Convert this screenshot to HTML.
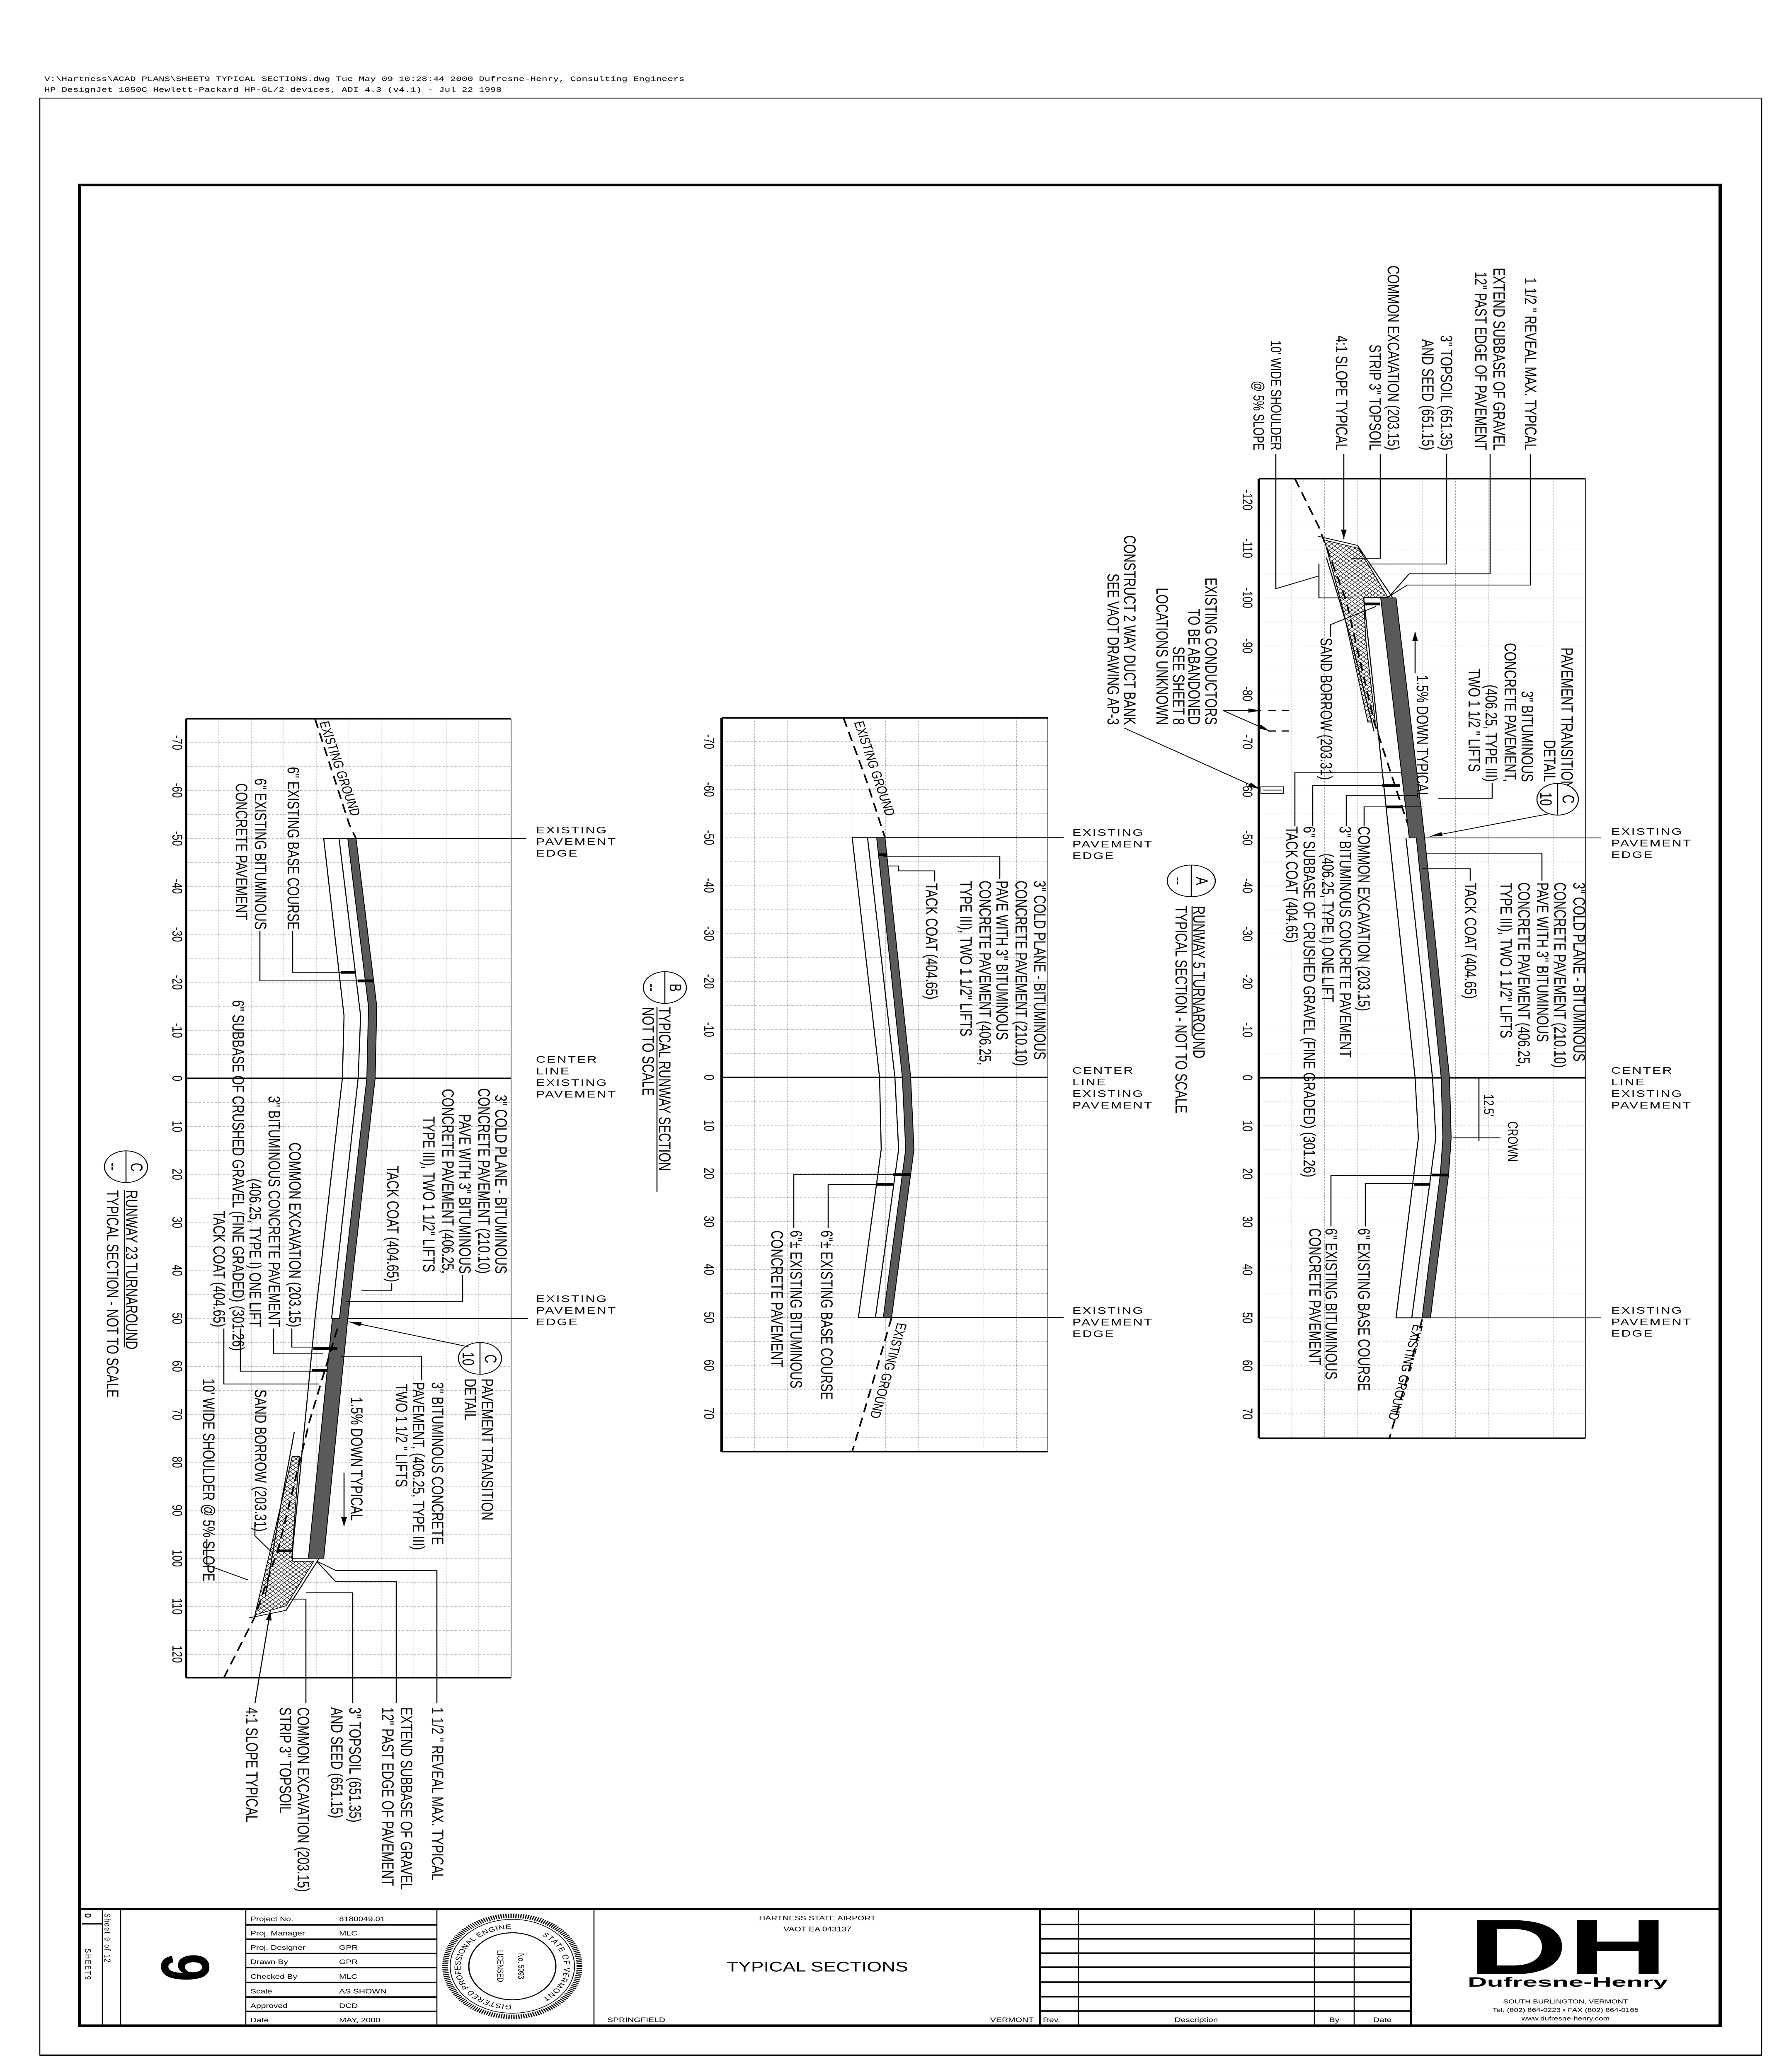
<!DOCTYPE html>
<html><head><meta charset="utf-8"><style>
html,body{margin:0;padding:0;background:#fff;overflow:hidden}
svg{display:block;position:fixed;left:0;top:0;width:100vw;height:100vh}
.t{font-family:"Liberation Sans",sans-serif;font-size:40px;fill:#000}
.s{font-family:"Liberation Sans",sans-serif;font-size:34px;fill:#000}
.e{font-family:"Liberation Sans",sans-serif;font-size:32px;letter-spacing:3px;fill:#000}
.m{font-family:"Liberation Mono",monospace;font-size:23px;fill:#000}
.tb{font-family:"Liberation Sans",sans-serif;font-size:21px;fill:#000}
.l{stroke:#000;stroke-width:2.5;fill:none}
.d{stroke:#000;stroke-width:4;fill:none;stroke-dasharray:30 18}
.pv{fill:#5a5a5a;stroke:#000;stroke-width:2}
.bar{stroke:#000;stroke-width:9}
</style></head><body>
<svg viewBox="0 0 4304 6800" preserveAspectRatio="none" xmlns="http://www.w3.org/2000/svg">
<defs>
<pattern id="gA" patternUnits="userSpaceOnUse" x="3037" y="3537" width="79" height="78.75"><path d="M0 0H79M0 0V78.75" stroke="#8a8a8a" stroke-width="1.6" stroke-dasharray="6 4" fill="none"/></pattern>
<pattern id="gB" patternUnits="userSpaceOnUse" x="1741" y="3536" width="79" height="78.75"><path d="M0 0H79M0 0V78.75" stroke="#8a8a8a" stroke-width="1.6" stroke-dasharray="6 4" fill="none"/></pattern>
<pattern id="gC" patternUnits="userSpaceOnUse" x="449" y="3539" width="78.4" height="78.75"><path d="M0 0H78.4M0 0V78.75" stroke="#8a8a8a" stroke-width="1.6" stroke-dasharray="6 4" fill="none"/></pattern>
<pattern id="hx" patternUnits="userSpaceOnUse" width="14" height="14"><path d="M0 0L14 14M14 0L0 14" stroke="#000" stroke-width="1.3"/></pattern>
<marker id="ar2" markerWidth="30" markerHeight="14" refX="30" refY="7" orient="auto" markerUnits="userSpaceOnUse"><path d="M0 0L30 7L0 14z" fill="#000"/></marker>
<path id="sealR" d="M1236 6330 A125 125 0 0 1 1236 6580"/>
<path id="sealL" d="M1236 6580 A125 125 0 0 1 1236 6330"/>
</defs>

<text class="m" x="107" y="266">V:\Hartness\ACAD PLANS\SHEET9 TYPICAL SECTIONS.dwg  Tue May 09 10:28:44 2000  Dufresne-Henry, Consulting Engineers</text>
<text class="m" x="107" y="301">HP DesignJet 1050C  Hewlett-Packard HP-GL/2 devices, ADI 4.3 (v4.1) - Jul 22 1998</text>

<rect x="96" y="322" width="4154" height="6423" fill="none" stroke="#000" stroke-width="2.5"/>
<line x1="96" y1="6745" x2="4250" y2="6745" stroke="#000" stroke-width="5"/>
<rect x="192" y="607" width="3958" height="6041" fill="none" stroke="#000" stroke-width="8"/>

<!-- SECTION A -->
<rect x="3037" y="1571" width="788" height="3149" fill="url(#gA)"/>
<line x1="3037" y1="1571" x2="3825" y2="1571" stroke="#000" stroke-width="5"/>
<line x1="3037" y1="4720" x2="3825" y2="4720" stroke="#000" stroke-width="5"/>
<line x1="3037" y1="1571" x2="3037" y2="4720" stroke="#000" stroke-width="6"/>
<line x1="3825" y1="1571" x2="3825" y2="4720" stroke="#000" stroke-width="1.5"/>
<line x1="3037" y1="3537" x2="3825" y2="3537" stroke="#000" stroke-width="5"/>
<line class="l" x1="3435" y1="2750" x2="3862" y2="2750"/>
<line class="l" x1="3368" y1="4325" x2="3862" y2="4325"/>
<g class="s" text-anchor="middle">
<text transform="translate(2998 1641) rotate(90)">-120</text>
<text transform="translate(2998 1799) rotate(90)">-110</text>
<text transform="translate(2998 1962) rotate(90)">-100</text>
<text transform="translate(2998 2120) rotate(90)">-90</text>
<text transform="translate(2998 2277) rotate(90)">-80</text>
<text transform="translate(2998 2435) rotate(90)">-70</text>
<text transform="translate(2998 2592) rotate(90)">-60</text>
<text transform="translate(2998 2750) rotate(90)">-50</text>
<text transform="translate(2998 2907) rotate(90)">-40</text>
<text transform="translate(2998 3065) rotate(90)">-30</text>
<text transform="translate(2998 3222) rotate(90)">-20</text>
<text transform="translate(2998 3380) rotate(90)">-10</text>
<text transform="translate(2998 3537) rotate(90)">0</text>
<text transform="translate(2998 3695) rotate(90)">10</text>
<text transform="translate(2998 3852) rotate(90)">20</text>
<text transform="translate(2998 4010) rotate(90)">30</text>
<text transform="translate(2998 4167) rotate(90)">40</text>
<text transform="translate(2998 4325) rotate(90)">50</text>
<text transform="translate(2998 4482) rotate(90)">60</text>
<text transform="translate(2998 4640) rotate(90)">70</text>
</g>
<polygon points="3195,1772 3278,1800 3348,1960 3290,1960 3295,2100 3318,2370 3300,2370 3240,2000" fill="url(#hx)" stroke="#000" stroke-width="2"/>
<polyline class="l" points="3180,1760 3275,1790 3360,1962"/>
<polyline class="l" points="3200,1830 3260,2100 3315,2400"/>
<polyline class="l" points="3290,1962 3352,2750"/>
<line class="l" x1="3290" y1="1962" x2="3368" y2="1962"/>
<polygon class="pv" points="3368,1962 3437,2750 3497,3537 3501,3734 3495,3852 3451,4325 3431,4325 3475,3852 3481,3734 3477,3537 3417,2750 3400,2750 3331,1962"/>
<polyline class="l" points="3392,2750 3456,3537 3464,3734 3406,4325"/>
<polyline class="l" points="3352,2750 3414,3537 3422,3734 3368,4325 3451,4325"/>
<polyline class="d" points="3124,1571 3182,1730 3248,1972 3315,2368 3364,2572 3395,2700"/>
<polyline class="d" points="3431,4330 3395,4520 3352,4720"/>
<line class="bar" x1="3335" y1="2578" x2="3377" y2="2578"/><line class="bar" x1="3343" y1="2648" x2="3385" y2="2648"/>
<line class="bar" x1="3454" y1="3856" x2="3495" y2="3856"/><line class="bar" x1="3412" y1="3887" x2="3451" y2="3887"/>
<line class="bar" x1="3290" y1="1982" x2="3330" y2="1982"/>
<line x1="3060" y1="2332" x2="3110" y2="2332" stroke="#000" stroke-width="4" stroke-dasharray="18 14"/>
<line x1="3060" y1="2399" x2="3110" y2="2399" stroke="#000" stroke-width="4" stroke-dasharray="18 14"/>
<rect x="3042" y="2582" width="55" height="22" fill="none" stroke="#000" stroke-width="2"/>
<line class="l" x1="3048" y1="2593" x2="3092" y2="2593"/>
<g class="t" text-anchor="end">
<text transform="translate(2908 2379) rotate(90)">EXISTING CONDUCTORS</text>
<text transform="translate(2867 2379) rotate(90)">TO BE ABANDONED</text>
<text transform="translate(2830 2379) rotate(90)">SEE SHEET 8</text>
<text transform="translate(2790 2379) rotate(90)">LOCATIONS UNKNOWN</text>
<text transform="translate(2712 2379) rotate(90)">CONSTRUCT 2 WAY DUCT BANK</text>
<text transform="translate(2672 2379) rotate(90)">SEE VAOT DRAWING AP-3</text>
</g>
<line class="l" x1="2951" y1="2332" x2="3042" y2="2332" marker-end="url(#ar2)"/>
<line class="l" x1="2951" y1="2332" x2="3063" y2="2399" marker-end="url(#ar2)"/>
<line class="l" x1="2712" y1="2389" x2="3040" y2="2590" marker-end="url(#ar2)"/>
<g class="t" text-anchor="end">
<text transform="translate(3679 1478) rotate(90)">1 1/2 " REVEAL MAX. TYPICAL</text>
<text transform="translate(3603 1478) rotate(90)">EXTEND SUBBASE OF GRAVEL</text>
<text transform="translate(3559 1478) rotate(90)">12" PAST EDGE OF PAVEMENT</text>
<text transform="translate(3476 1478) rotate(90)">3" TOPSOIL (651.35)</text>
<text transform="translate(3431 1478) rotate(90)">AND SEED (651.15)</text>
<text transform="translate(3348 1478) rotate(90)">COMMON EXCAVATION (203.15)</text>
<text transform="translate(3304 1478) rotate(90)">STRIP 3" TOPSOIL</text>
<text transform="translate(3223 1478) rotate(90)">4:1 SLOPE TYPICAL</text>
<text transform="translate(3066 1478) rotate(90)" font-size="36">10' WIDE SHOULDER</text>
<text transform="translate(3024 1478) rotate(90)" font-size="36">@ 5% SLOPE</text>
</g>
<polyline class="l" points="3692,1490 3692,1920 3395,1920 3348,1960"/>
<polyline class="l" points="3595,1490 3595,1883 3400,1883 3350,1960"/>
<polyline class="l" points="3490,1490 3490,1851 3306,1851"/>
<polyline class="l" points="3330,1490 3330,1832 3260,1832"/>
<line class="l" x1="3242" y1="1490" x2="3242" y2="1768" marker-end="url(#ar2)"/>
<polyline class="l" points="3078,1490 3078,1932 3182,1890"/>
<polyline class="l" points="3182,1850 3182,1962 3260,1962"/>
<g class="t">
<text transform="translate(3767 2125) rotate(90)">PAVEMENT TRANSITION</text>
<text transform="translate(3725 2566) rotate(90)" text-anchor="end">DETAIL</text>
<text transform="translate(3671 2566) rotate(90)" text-anchor="end">3" BITUMINOUS</text>
<text transform="translate(3630 2566) rotate(90)" text-anchor="end">CONCRETE PAVEMENT,</text>
<text transform="translate(3584 2566) rotate(90)" text-anchor="end">(406.25, TYPE III)</text>
<text transform="translate(3543 2533) rotate(90)" text-anchor="end">TWO 1 1/2 " LIFTS</text>
<text transform="translate(3418 2215) rotate(90)">1.5% DOWN TYPICAL</text>
<text transform="translate(3186 2093) rotate(90)">SAND BORROW (203.31)</text>
</g>
<polyline class="l" points="3600,2570 3600,2620 3470,2620"/>
<line class="l" x1="3414" y1="2210" x2="3414" y2="2074" marker-end="url(#ar2)"/>
<polyline class="l" points="3210,2090 3210,2050 3320,1990"/>
<ellipse cx="3758" cy="2623" rx="50" ry="52" fill="#fff" stroke="#000" stroke-width="2.5"/>
<line class="l" x1="3758" y1="2571" x2="3758" y2="2675"/>
<text class="t" transform="translate(3770 2608) rotate(90)" font-size="34">C</text>
<text class="t" transform="translate(3716 2600) rotate(90)" font-size="34">10</text>
<line class="l" x1="3740" y1="2670" x2="3450" y2="2745" marker-end="url(#ar2)"/>
<g class="t">
<text transform="translate(3277 2712) rotate(90)">COMMON EXCAVATION (203.15)</text>
<text transform="translate(3232 2712) rotate(90)">3" BITUMINOUS CONCRETE PAVEMENT</text>
<text transform="translate(3190 2801) rotate(90)">(406.25, TYPE I) ONE LIFT</text>
<text transform="translate(3145 2712) rotate(90)">6" SUBBASE OF CRUSHED GRAVEL (FINE GRADED) (301.26)</text>
<text transform="translate(3103 2712) rotate(90)">TACK COAT (404.65)</text>
</g>
<polyline class="l" points="3291,2712 3291,2648 3430,2648"/>
<polyline class="l" points="3248,2712 3248,2610 3420,2610"/>
<polyline class="l" points="3167,2712 3167,2578 3340,2578"/>
<polyline class="l" points="3124,2712 3124,2536 3380,2536"/>
<g class="t">
<text transform="translate(3796 2896) rotate(90)">3" COLD PLANE - BITUMINOUS</text>
<text transform="translate(3750 2896) rotate(90)">CONCRETE PAVEMENT (210.10)</text>
<text transform="translate(3708 2896) rotate(90)">PAVE WITH 3" BITUMINOUS</text>
<text transform="translate(3663 2896) rotate(90)">CONCRETE PAVEMENT (406.25,</text>
<text transform="translate(3620 2896) rotate(90)">TYPE III), TWO 1 1/2" LIFTS</text>
<text transform="translate(3534 2896) rotate(90)">TACK COAT (404.65)</text>
<text transform="translate(3580 3591) rotate(90)" font-size="34">12.5'</text>
<text transform="translate(3638 3680) rotate(90)" font-size="34">CROWN</text>
<text transform="translate(3277 4031) rotate(90)">6" EXISTING BASE COURSE</text>
<text transform="translate(3198 4031) rotate(90)">6" EXISTING BITUMINOUS</text>
<text transform="translate(3159 4031) rotate(90)">CONCRETE PAVEMENT</text>
<text transform="translate(3410 4345) rotate(101)" font-size="34">EXISTING GROUND</text>
</g>
<polyline class="l" points="3720,2890 3720,2800 3440,2800"/>
<polyline class="l" points="3547,2890 3547,2851 3430,2851"/>
<line class="l" x1="3568" y1="3537" x2="3568" y2="3745"/>
<line class="l" x1="3505" y1="3734" x2="3620" y2="3734"/>
<polyline class="l" points="3294,4025 3294,3884 3447,3884"/>
<polyline class="l" points="3211,4025 3211,3858 3456,3858"/>
<g class="e">
<text x="3887" y="2740">EXISTING</text><text x="3887" y="2778">PAVEMENT</text><text x="3887" y="2816">EDGE</text>
<text x="3887" y="3524">CENTER</text><text x="3887" y="3562">LINE</text><text x="3887" y="3600">EXISTING</text><text x="3887" y="3638">PAVEMENT</text>
<text x="3887" y="4311">EXISTING</text><text x="3887" y="4349">PAVEMENT</text><text x="3887" y="4387">EDGE</text>
</g>
<ellipse cx="2874" cy="2891" rx="58" ry="52" fill="#fff" stroke="#000" stroke-width="2.5"/>
<line class="l" x1="2874" y1="2839" x2="2874" y2="2943"/>
<text class="t" transform="translate(2886 2878) rotate(90)">A</text>
<text class="t" transform="translate(2830 2878) rotate(90)">--</text>
<text class="t" transform="translate(2879 2973) rotate(90)">RUNWAY 5 TURNAROUND</text>
<line class="l" x1="2876" y1="2973" x2="2876" y2="3400"/>
<text class="t" transform="translate(2836 2973) rotate(90)">TYPICAL SECTION - NOT TO SCALE</text>

<!-- SECTION B -->
<rect x="1741" y="2356" width="787" height="2408" fill="url(#gB)"/>
<line x1="1741" y1="2356" x2="2528" y2="2356" stroke="#000" stroke-width="5"/>
<line x1="1741" y1="4764" x2="2528" y2="4764" stroke="#000" stroke-width="5"/>
<line x1="1741" y1="2356" x2="1741" y2="4764" stroke="#000" stroke-width="6"/>
<line x1="2528" y1="2356" x2="2528" y2="4764" stroke="#000" stroke-width="1.5"/>
<line x1="1741" y1="3536" x2="2528" y2="3536" stroke="#000" stroke-width="5"/>
<line class="l" x1="2056" y1="2749" x2="2566" y2="2749"/>
<line class="l" x1="2071" y1="4324" x2="2566" y2="4324"/>
<g class="s" text-anchor="middle">
<text transform="translate(1699 2434) rotate(90)">-70</text>
<text transform="translate(1699 2591) rotate(90)">-60</text>
<text transform="translate(1699 2749) rotate(90)">-50</text>
<text transform="translate(1699 2906) rotate(90)">-40</text>
<text transform="translate(1699 3064) rotate(90)">-30</text>
<text transform="translate(1699 3221) rotate(90)">-20</text>
<text transform="translate(1699 3379) rotate(90)">-10</text>
<text transform="translate(1699 3536) rotate(90)">0</text>
<text transform="translate(1699 3694) rotate(90)">10</text>
<text transform="translate(1699 3851) rotate(90)">20</text>
<text transform="translate(1699 4009) rotate(90)">30</text>
<text transform="translate(1699 4166) rotate(90)">40</text>
<text transform="translate(1699 4324) rotate(90)">50</text>
<text transform="translate(1699 4481) rotate(90)">60</text>
<text transform="translate(1699 4639) rotate(90)">70</text>
</g>
<polygon class="pv" points="2135,2749 2197,3536 2205,3772 2151,4324 2131,4324 2185,3772 2177,3536 2115,2749"/>
<polyline class="l" points="2093,2749 2159,3536 2168,3772 2112,4324"/>
<polyline class="l" points="2056,2749 2122,3536 2126,3772 2071,4324"/>
<polyline class="d" points="2035,2356 2090,2560 2135,2749"/>
<polyline class="d" points="2151,4324 2105,4540 2056,4764"/>
<line class="bar" x1="2155" y1="3855" x2="2197" y2="3855"/><line class="bar" x1="2114" y1="3887" x2="2155" y2="3887"/>
<line class="bar" x1="2120" y1="2805" x2="2141" y2="2805"/>
<g class="t">
<text transform="translate(2495 2890) rotate(90)">3" COLD PLANE - BITUMINOUS</text>
<text transform="translate(2450 2890) rotate(90)">CONCRETE PAVEMENT (210.10)</text>
<text transform="translate(2404 2890) rotate(90)">PAVE WITH 3" BITUMINOUS</text>
<text transform="translate(2363 2890) rotate(90)">CONCRETE PAVEMENT (406.25,</text>
<text transform="translate(2317 2890) rotate(90)">TYPE III), TWO 1 1/2" LIFTS</text>
<text transform="translate(2234 2898) rotate(90)">TACK COAT (404.65)</text>
<text transform="translate(1981 4038) rotate(90)">6"± EXISTING BASE COURSE</text>
<text transform="translate(1907 4038) rotate(90)">6"± EXISTING BITUMINOUS</text>
<text transform="translate(1861 4038) rotate(90)">CONCRETE PAVEMENT</text>
<text transform="translate(2060 2370) rotate(76)" font-size="34">EXISTING GROUND</text>
<text transform="translate(2165 4340) rotate(102)" font-size="34">EXISTING GROUND</text>
</g>
<polyline class="l" points="2412,2885 2412,2810 2130,2810"/>
<polyline class="l" points="2255,2893 2255,2858 2168,2858 2168,2842 2140,2842"/>
<polyline class="l" points="1998,4030 1998,3887 2155,3887"/>
<polyline class="l" points="1915,4030 1915,3855 2190,3855"/>
<g class="e">
<text x="2587" y="2743">EXISTING</text><text x="2587" y="2781">PAVEMENT</text><text x="2587" y="2819">EDGE</text>
<text x="2587" y="3524">CENTER</text><text x="2587" y="3562">LINE</text><text x="2587" y="3600">EXISTING</text><text x="2587" y="3638">PAVEMENT</text>
<text x="2587" y="4312">EXISTING</text><text x="2587" y="4350">PAVEMENT</text><text x="2587" y="4388">EDGE</text>
</g>
<ellipse cx="1604" cy="3241" rx="52" ry="52" fill="#fff" stroke="#000" stroke-width="2.5"/>
<line class="l" x1="1604" y1="3189" x2="1604" y2="3293"/>
<text class="t" transform="translate(1616 3228) rotate(90)">B</text>
<text class="t" transform="translate(1560 3228) rotate(90)">--</text>
<text class="t" transform="translate(1590 3305) rotate(90)">TYPICAL RUNWAY SECTION</text>
<line class="l" x1="1585" y1="3305" x2="1585" y2="3911"/>
<text class="t" transform="translate(1550 3305) rotate(90)">NOT TO SCALE</text>

<!-- SECTION C -->
<rect x="449" y="2359" width="784" height="3147" fill="url(#gC)"/>
<line x1="449" y1="2359" x2="1233" y2="2359" stroke="#000" stroke-width="5"/>
<line x1="449" y1="5506" x2="1233" y2="5506" stroke="#000" stroke-width="5"/>
<line x1="449" y1="2359" x2="449" y2="5506" stroke="#000" stroke-width="6"/>
<line x1="1233" y1="2359" x2="1233" y2="5506" stroke="#000" stroke-width="1.5"/>
<line x1="449" y1="3539" x2="1233" y2="3539" stroke="#000" stroke-width="5"/>
<line class="l" x1="781" y1="2752" x2="1270" y2="2752"/>
<line class="l" x1="839" y1="4327" x2="1274" y2="4327"/>
<g class="s" text-anchor="middle">
<text transform="translate(416 2437) rotate(90)">-70</text>
<text transform="translate(416 2594) rotate(90)">-60</text>
<text transform="translate(416 2752) rotate(90)">-50</text>
<text transform="translate(416 2909) rotate(90)">-40</text>
<text transform="translate(416 3067) rotate(90)">-30</text>
<text transform="translate(416 3224) rotate(90)">-20</text>
<text transform="translate(416 3382) rotate(90)">-10</text>
<text transform="translate(416 3539) rotate(90)">0</text>
<text transform="translate(416 3697) rotate(90)">10</text>
<text transform="translate(416 3854) rotate(90)">20</text>
<text transform="translate(416 4012) rotate(90)">30</text>
<text transform="translate(416 4169) rotate(90)">40</text>
<text transform="translate(416 4327) rotate(90)">50</text>
<text transform="translate(416 4484) rotate(90)">60</text>
<text transform="translate(416 4642) rotate(90)">70</text>
<text transform="translate(416 4799) rotate(90)">80</text>
<text transform="translate(416 4957) rotate(90)">90</text>
<text transform="translate(416 5114) rotate(90)">100</text>
<text transform="translate(416 5272) rotate(90)">110</text>
<text transform="translate(416 5429) rotate(90)">120</text>
</g>
<polygon points="615,5300 690,5270 757,5124 705,5124 705,5088 722,4780 705,4780 650,5100" fill="url(#hx)" stroke="#000" stroke-width="2"/>
<polyline class="l" points="600,5310 690,5285 770,5114"/>
<polyline class="l" points="640,5240 680,4920 710,4700"/>
<polyline class="l" points="760,4327 704,5114 781,5114"/>
<polygon class="pv" points="859,2752 909,3303 905,3539 839,4327 781,5114 744,5114 802,4327 819,4327 885,3539 889,3303 839,2752"/>
<polyline class="l" points="818,2752 870,3334 864,3539 800,4327"/>
<polyline class="l" points="859,2752 781,2752 830,3334 826,3539 760,4327"/>
<polyline class="d" points="760,2359 843,2707 859,2752"/>
<polyline class="d" points="814,4360 747,4663 673,5075 615,5306 540,5506"/>
<line class="bar" x1="822" y1="3191" x2="859" y2="3191"/><line class="bar" x1="864" y1="3219" x2="901" y2="3219"/>
<line class="bar" x1="756" y1="4425" x2="814" y2="4425"/><line class="bar" x1="752" y1="4497" x2="789" y2="4497"/>
<line class="bar" x1="669" y1="5090" x2="704" y2="5090"/>
<g class="t">
<text transform="translate(694 3051) rotate(90)" text-anchor="end">6" EXISTING BASE COURSE</text>
<text transform="translate(615 3051) rotate(90)" text-anchor="end">6" EXISTING BITUMINOUS</text>
<text transform="translate(569 3020) rotate(90)" text-anchor="end">CONCRETE PAVEMENT</text>
<text transform="translate(561 3282) rotate(90)">6" SUBBASE OF CRUSHED GRAVEL (FINE GRADED) (301.26)</text>
<text transform="translate(698 4356) rotate(90)" text-anchor="end">COMMON EXCAVATION (203.15)</text>
<text transform="translate(648 4356) rotate(90)" text-anchor="end">3" BITUMINOUS CONCRETE PAVEMENT</text>
<text transform="translate(602 4356) rotate(90)" text-anchor="end">(406.25, TYPE I) ONE LIFT</text>
<text transform="translate(515 4356) rotate(90)" text-anchor="end">TACK COAT (404.65)</text>
<text transform="translate(1195 4180) rotate(90)" text-anchor="end">3" COLD PLANE - BITUMINOUS</text>
<text transform="translate(1154 4180) rotate(90)" text-anchor="end">CONCRETE PAVEMENT (210.10)</text>
<text transform="translate(1108 4180) rotate(90)" text-anchor="end">PAVE WITH 3" BITUMINOUS</text>
<text transform="translate(1067 4180) rotate(90)" text-anchor="end">CONCRETE PAVEMENT (406.25,</text>
<text transform="translate(1021 4175) rotate(90)" text-anchor="end">TYPE III), TWO 1 1/2" LIFTS</text>
<text transform="translate(934 4208) rotate(90)" text-anchor="end">TACK COAT (404.65)</text>
<text transform="translate(1162 4524) rotate(90)">PAVEMENT TRANSITION</text>
<text transform="translate(1121 4524) rotate(90)">DETAIL</text>
<text transform="translate(1042 4536) rotate(90)">3" BITUMINOUS CONCRETE</text>
<text transform="translate(996 4536) rotate(90)">PAVEMENT, (406.25, TYPE III)</text>
<text transform="translate(955 4542) rotate(90)">TWO 1 1/2 " LIFTS</text>
<text transform="translate(847 4585) rotate(90)">1.5% DOWN TYPICAL</text>
<text transform="translate(615 4560) rotate(90)">SAND BORROW (203.31)</text>
<text transform="translate(490 4524) rotate(90)">10' WIDE SHOULDER @ 5% SLOPE</text>
<text transform="translate(770 2370) rotate(76)" font-size="34">EXISTING GROUND</text>
<text transform="translate(1042 5603) rotate(90)">1 1/2 " REVEAL MAX. TYPICAL</text>
<text transform="translate(967 5603) rotate(90)">EXTEND SUBBASE OF GRAVEL</text>
<text transform="translate(922 5603) rotate(90)">12" PAST EDGE OF PAVEMENT</text>
<text transform="translate(843 5603) rotate(90)">3" TOPSOIL (651.35)</text>
<text transform="translate(799 5603) rotate(90)">AND SEED (651.15)</text>
<text transform="translate(718 5603) rotate(90)">COMMON EXCAVATION (203.15)</text>
<text transform="translate(675 5603) rotate(90)">STRIP 3" TOPSOIL</text>
<text transform="translate(594 5603) rotate(90)">4:1 SLOPE TYPICAL</text>
</g>
<polyline class="l" points="706,3055 706,3191 859,3191"/>
<polyline class="l" points="627,3055 627,3219 901,3219"/>
<polyline class="l" points="704,4360 704,4421 756,4421"/>
<polyline class="l" points="660,4360 660,4443 780,4443"/>
<polyline class="l" points="580,4360 580,4500 789,4500"/>
<polyline class="l" points="540,4360 540,4542 770,4542"/>
<polyline class="l" points="1116,4185 1116,4271 835,4271"/>
<polyline class="l" points="945,4212 945,4236 872,4236"/>
<ellipse cx="1158" cy="4458" rx="52" ry="52" fill="#fff" stroke="#000" stroke-width="2.5"/>
<line class="l" x1="1158" y1="4406" x2="1158" y2="4510"/>
<text class="t" transform="translate(1170 4445) rotate(90)" font-size="34">C</text>
<text class="t" transform="translate(1116 4437) rotate(90)" font-size="34">10</text>
<line class="l" x1="1130" y1="4420" x2="842" y2="4338" marker-end="url(#ar2)"/>
<polyline class="l" points="1017,4530 1017,4451 822,4451"/>
<line class="l" x1="830" y1="4833" x2="830" y2="5009" marker-end="url(#ar2)"/>
<polyline class="l" points="615,4995 615,5040 660,5100"/>
<polyline class="l" points="499,5051 499,5136 598,5185"/>
<polyline class="l" points="1054,5590 1054,5154 810,5154 765,5124"/>
<polyline class="l" points="956,5590 956,5191 810,5191 764,5124"/>
<polyline class="l" points="851,5590 851,5227 739,5227"/>
<polyline class="l" points="738,5590 738,5248 698,5248"/>
<line class="l" x1="615" y1="5590" x2="652" y2="5288" marker-end="url(#ar2)"/>
<g class="e">
<text x="1293" y="2735">EXISTING</text><text x="1293" y="2773">PAVEMENT</text><text x="1293" y="2811">EDGE</text>
<text x="1293" y="3488">CENTER</text><text x="1293" y="3526">LINE</text><text x="1293" y="3564">EXISTING</text><text x="1293" y="3602">PAVEMENT</text>
<text x="1293" y="4273">EXISTING</text><text x="1293" y="4311">PAVEMENT</text><text x="1293" y="4349">EDGE</text>
</g>
<ellipse cx="304" cy="3829" rx="52" ry="52" fill="#fff" stroke="#000" stroke-width="2.5"/>
<line class="l" x1="304" y1="3777" x2="304" y2="3881"/>
<text class="t" transform="translate(316 3816) rotate(90)">C</text>
<text class="t" transform="translate(260 3816) rotate(90)">--</text>
<text class="t" transform="translate(304 3906) rotate(90)">RUNWAY 23 TURNAROUND</text>
<line class="l" x1="300" y1="3906" x2="300" y2="4420"/>
<text class="t" transform="translate(258 3906) rotate(90)">TYPICAL SECTION - NOT TO SCALE</text>

<!-- TITLE BLOCK -->
<line x1="192" y1="6265" x2="4150" y2="6265" stroke="#000" stroke-width="7"/>
<g stroke="#000" stroke-width="2.5">
<line x1="247" y1="6265" x2="247" y2="6648"/>
<line x1="291" y1="6265" x2="291" y2="6648"/>
<line x1="593" y1="6265" x2="593" y2="6648"/>
<line x1="1054" y1="6265" x2="1054" y2="6648"/>
<line x1="1433" y1="6265" x2="1433" y2="6648"/>
<line x1="2509" y1="6265" x2="2509" y2="6648" stroke-width="4"/>
<line x1="2602" y1="6265" x2="2602" y2="6648"/>
<line x1="3171" y1="6265" x2="3171" y2="6648"/>
<line x1="3267" y1="6265" x2="3267" y2="6648"/>
<line x1="3404" y1="6265" x2="3404" y2="6648" stroke-width="4"/>
<line x1="198" y1="6314" x2="247" y2="6314" stroke-width="4"/>
</g>
<g stroke="#000" stroke-width="5">
<line x1="593" y1="6317" x2="1054" y2="6317"/><line x1="593" y1="6364" x2="1054" y2="6364"/>
<line x1="593" y1="6411" x2="1054" y2="6411"/><line x1="593" y1="6457" x2="1054" y2="6457"/>
<line x1="593" y1="6506" x2="1054" y2="6506"/><line x1="593" y1="6554" x2="1054" y2="6554"/>
<line x1="593" y1="6601" x2="1054" y2="6601"/>
<line x1="2509" y1="6316" x2="3404" y2="6316"/><line x1="2509" y1="6363" x2="3404" y2="6363"/>
<line x1="2509" y1="6410" x2="3404" y2="6410"/><line x1="2509" y1="6456" x2="3404" y2="6456"/>
<line x1="2509" y1="6505" x2="3404" y2="6505"/><line x1="2509" y1="6553" x2="3404" y2="6553"/>
<line x1="2509" y1="6600" x2="3404" y2="6600"/>
</g>
<text class="tb" transform="translate(205 6279) rotate(90)" font-size="26" font-weight="bold">D</text>
<text class="tb" transform="translate(205 6395) rotate(90)" font-size="26" letter-spacing="4">SHEET9</text>
<text class="tb" transform="translate(252 6279) rotate(90)" font-size="26" letter-spacing="3">Sheet  9  of  12</text>
<text transform="translate(390 6457) rotate(90)" text-anchor="middle" font-family="Liberation Sans,sans-serif" font-size="165" font-weight="bold">9</text>
<g class="tb">
<text x="604" y="6305">Project No.</text><text x="818" y="6305">8180049.01</text>
<text x="604" y="6352">Proj. Manager</text><text x="818" y="6352">MLC</text>
<text x="604" y="6399">Proj. Designer</text><text x="818" y="6399">GPR</text>
<text x="604" y="6446">Drawn By</text><text x="818" y="6446">GPR</text>
<text x="604" y="6494">Checked By</text><text x="818" y="6494">MLC</text>
<text x="604" y="6542">Scale</text><text x="818" y="6542">AS SHOWN</text>
<text x="604" y="6590">Approved</text><text x="818" y="6590">DCD</text>
<text x="604" y="6637">Date</text><text x="818" y="6637">MAY, 2000</text>
</g>
<ellipse cx="1236" cy="6453" rx="162" ry="166" fill="none" stroke="#000" stroke-width="14" stroke-dasharray="3 3"/>
<ellipse cx="1236" cy="6453" rx="150" ry="154" fill="none" stroke="#000" stroke-width="2"/>
<ellipse cx="1236" cy="6453" rx="105" ry="110" fill="none" stroke="#000" stroke-width="3"/>
<text class="tb" font-size="24" letter-spacing="2"><textPath href="#sealR" startOffset="50%" text-anchor="middle">STATE OF VERMONT</textPath></text>
<text class="tb" font-size="18" letter-spacing="1"><textPath href="#sealL" startOffset="50%" text-anchor="middle">REGISTERED PROFESSIONAL ENGINEER</textPath></text>
<text class="tb" transform="translate(1250 6410) rotate(90)" font-size="20">No. 5093</text>
<text class="tb" transform="translate(1200 6400) rotate(90)" font-size="22">LICENSED</text>
<g font-family="Liberation Sans,sans-serif" text-anchor="middle">
<text x="1972" y="6302" font-size="21">HARTNESS STATE AIRPORT</text>
<text x="1972" y="6338" font-size="21">VAOT EA 043137</text>
<text x="1972" y="6470" font-size="46">TYPICAL SECTIONS</text>
</g>
<text class="tb" x="1465" y="6636">SPRINGFIELD</text>
<text class="tb" x="2494" y="6636" text-anchor="end">VERMONT</text>
<text class="tb" x="2516" y="6636">Rev.</text>
<text class="tb" x="2886" y="6636" text-anchor="middle">Description</text>
<text class="tb" x="3219" y="6636" text-anchor="middle">By</text>
<text class="tb" x="3335" y="6636" text-anchor="middle">Date</text>
<text x="3541" y="6479" font-family="Liberation Sans,sans-serif" font-weight="bold" font-size="258" textLength="483" lengthAdjust="spacingAndGlyphs">DH</text>
<text x="3541" y="6520" font-family="Liberation Sans,sans-serif" font-weight="bold" font-size="44" textLength="483" lengthAdjust="spacingAndGlyphs">Dufresne-Henry</text>
<g font-family="Liberation Sans,sans-serif" text-anchor="middle" font-size="19">
<text x="3777" y="6575">SOUTH BURLINGTON, VERMONT</text>
<text x="3777" y="6603">Tel. (802) 864-0223 • FAX (802) 864-0165</text>
<text x="3777" y="6631">www.dufresne-henry.com</text>
</g>
</svg>
</body></html>
